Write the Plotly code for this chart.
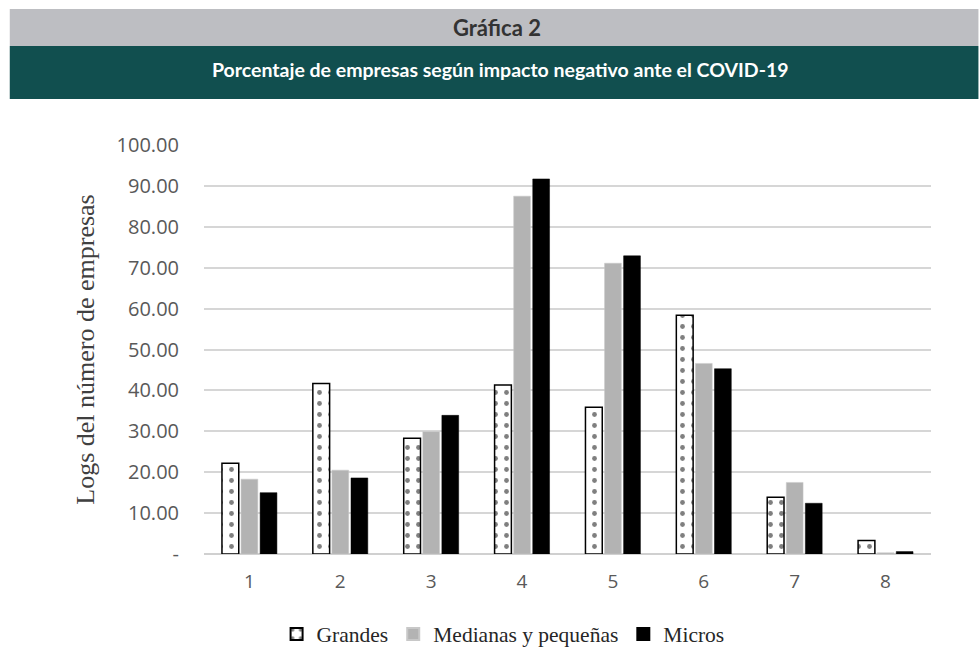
import plotly.graph_objects as go

categories = ["1", "2", "3", "4", "5", "6", "7", "8"]
grandes = [22.2, 41.7, 28.3, 41.3, 35.9, 58.4, 13.9, 3.3]
medianas = [18.3, 20.5, 29.9, 87.5, 71.1, 46.6, 17.5, 0.3]
micros = [15.0, 18.6, 33.9, 91.7, 72.9, 45.3, 12.4, 0.6]
ytick_vals = [0, 10, 20, 30, 40, 50, 60, 70, 80, 90, 100]
ytick_text = ["-", "10.00", "20.00", "30.00", "40.00", "50.00", "60.00", "70.00", "80.00", "90.00", "100.00"]

W, H = 979, 647
L, R, T, B = 203.5, 47.5, 145, 93
pw, ph = W - L - R, H - T - B

def px(x):
    return (x - L) / pw

def py(y):
    return (H - B - y) / ph

fig = go.Figure()
fig.add_trace(go.Bar(
    x=categories, y=grandes, name="Grandes",
    marker=dict(color="white", line=dict(color="black", width=1.5),
                pattern=dict(shape=".", fgcolor="black", bgcolor="white", size=11, solidity=0.15)),
))
fig.add_trace(go.Bar(
    x=categories, y=medianas, name="Medianas y pequeñas",
    marker=dict(color="#b3b3b3", line=dict(color="#c8c8c8", width=0.5)),
))
fig.add_trace(go.Bar(
    x=categories, y=micros, name="Micros",
    marker=dict(color="black", line=dict(color="black", width=0.5)),
))

shapes = [
    dict(type="rect", xref="paper", yref="paper", x0=px(9), x1=px(979), y0=py(46), y1=py(9),
         fillcolor="#bdbec2", line=dict(width=0), layer="below"),
    dict(type="rect", xref="paper", yref="paper", x0=px(9), x1=px(979), y0=py(99), y1=py(46),
         fillcolor="#114f4f", line=dict(width=0), layer="below"),
]
annotations = [
    dict(text="<b>Gráfica 2</b>", xref="paper", yref="paper", x=px(497), y=py(28),
         showarrow=False, font=dict(family="Lato", size=22, color="#333333"),
         xanchor="center", yanchor="middle"),
    dict(text="<b>Porcentaje de empresas según impacto negativo ante el COVID-19</b>", xref="paper", yref="paper",
         x=px(500), y=py(69), showarrow=False, font=dict(family="Lato", size=19.5, color="white"),
         xanchor="center", yanchor="middle"),
]

fig.update_layout(
    width=W, height=H,
    margin=dict(l=L, r=R, t=T, b=B, autoexpand=False),
    paper_bgcolor="white", plot_bgcolor="white",
    barmode="group", bargap=0.37, bargroupgap=0.12,
    shapes=shapes, annotations=annotations,
    showlegend=True,
    legend=dict(orientation="h", x=px(503), xanchor="center", y=py(634), yanchor="middle",
                font=dict(family="Liberation Serif", size=21.5, color="#262626"),
                itemsizing="constant", traceorder="normal", itemwidth=30),
    xaxis=dict(type="category", range=[-0.5, 7.5], showgrid=False, showline=True,
               linecolor="#d0d0d0", linewidth=1.3, ticks="", ticklabelstandoff=10,
               tickfont=dict(family="Open Sans", size=19, color="#595959")),
    yaxis=dict(range=[0, 100], tickvals=ytick_vals, ticktext=ytick_text,
               showgrid=True, gridcolor="#d6d6d6", gridwidth=1.5, zeroline=True,
               zerolinecolor="#d0d0d0", zerolinewidth=1.5, ticks="", ticklen=0,
               ticklabelstandoff=24,
               tickfont=dict(family="Open Sans", size=20, color="#595959"),
               title=dict(text="Logs del número de empresas", standoff=14,
                          font=dict(family="Liberation Serif", size=26, color="#404040"))),
)

fig.write_html("out.html", config={"displayModeBar": False},
               post_script="document.body.style.margin='0px';document.body.style.padding='0px';")
